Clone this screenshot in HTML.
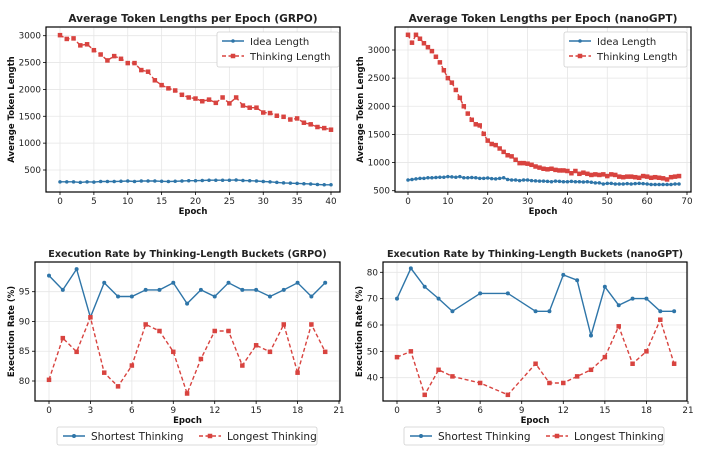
<!DOCTYPE html>
<html><head><meta charset="utf-8"><style>
html,body{margin:0;padding:0;background:#fff;}
svg{display:block;font-family:"DejaVu Sans","Liberation Sans",sans-serif;}
</style></head><body>
<svg id="fig" width="702" height="454" viewBox="0 0 702 454" xmlns="http://www.w3.org/2000/svg"></svg>
<script>
// ---- data ----
const grpoEpochs = Array.from({length:41},(_,i)=>i);
const grpoIdea = [280,280,280,270,280,275,285,285,285,290,295,285,295,295,295,290,285,290,295,300,300,305,310,310,310,310,315,305,300,295,285,280,270,260,255,250,245,240,230,225,225];
const grpoThinking = [3010,2940,2950,2820,2840,2730,2650,2540,2620,2570,2490,2490,2360,2330,2170,2080,2020,1980,1900,1850,1830,1780,1810,1750,1850,1740,1850,1700,1660,1660,1570,1560,1510,1490,1440,1460,1380,1350,1300,1280,1250];
const nanoEpochs = Array.from({length:69},(_,i)=>i);
const nanoIdea = [690,700,710,720,720,730,730,735,740,740,750,745,740,750,730,730,735,730,720,720,725,715,710,720,730,700,690,690,680,690,690,680,675,670,670,665,660,670,665,660,660,665,660,660,655,660,650,640,640,620,630,630,620,620,620,625,620,625,630,625,620,610,610,610,610,610,610,620,620];
const nanoThinking = [3270,3130,3270,3200,3120,3050,2980,2880,2780,2640,2500,2420,2290,2150,2000,1870,1760,1680,1660,1510,1390,1330,1310,1250,1190,1130,1110,1050,990,990,980,960,930,910,890,880,890,870,860,860,850,810,850,800,820,800,780,790,780,790,760,790,780,750,740,750,750,740,730,760,750,730,740,730,720,700,740,750,760];
const grpoBucketEpochs = Array.from({length:21},(_,i)=>i);
const grpoShortest = [97.7,95.3,98.8,90.7,96.5,94.2,94.2,95.3,95.3,96.5,93.0,95.3,94.2,96.5,95.3,95.3,94.2,95.3,96.5,94.2,96.5];
const grpoLongest = [80.2,87.2,84.9,90.7,81.4,79.1,82.6,89.5,88.4,84.9,77.9,83.7,88.4,88.4,82.6,86.0,84.9,89.5,81.4,89.5,84.9];
const nanoBucketEpochs = [0,1,2,3,4,6,8,10,11,12,13,14,15,16,17,18,19,20];
const nanoShortest = [70,81.5,74.5,70,65.2,72,72,65.2,65.2,79,77,56,74.5,67.5,70,70,65.2,65.2];
const nanoLongest = [47.8,50,33.5,43,40.5,38,33.5,45.3,38,38,40.5,43,47.8,59.5,45.3,50,62,45.3];
const tokenXTicksG = [0,5,10,15,20,25,30,35,40];
const tokenYTicksG = [500,1000,1500,2000,2500,3000];
const tokenXTicksN = [0,10,20,30,40,50,60,70];
const tokenYTicksN = [500,1000,1500,2000,2500,3000];
const bucketXTicks = [0,3,6,9,12,15,18,21];
const bucketYTicksG = [80,85,90,95];
const bucketYTicksN = [40,50,60,70,80];

const NS="http://www.w3.org/2000/svg";
const fig=document.getElementById('fig');
const BLUE="#2e75a8", RED="#d8433f";
function mk(tag,attrs,parent){const e=document.createElementNS(NS,tag);for(const k in attrs)e.setAttribute(k,attrs[k]);(parent||fig).appendChild(e);return e;}

function chart(cfg){
  const g=mk('g',{});
  
  
  const {L,R,T,B}=cfg.box;
  const sx=v=>cfg.x0p+(v-cfg.x0)*(cfg.x1p-cfg.x0p)/(cfg.x1-cfg.x0);
  const sy=v=>cfg.y0p+(v-cfg.y0)*(cfg.y1p-cfg.y0p)/(cfg.y1-cfg.y0);
  cfg.xticks.forEach(t=>{const x=sx(t);
    const gl=mk('line',{x1:x,x2:x,y1:T,y2:B,stroke:'#e6e6e6','stroke-width':0.8},g);
    
    
    mk('line',{x1:x,x2:x,y1:B,y2:B+3,stroke:'#000','stroke-width':0.8},g);
    const tx=mk('text',{x:x,y:B+12,'font-size':8.8,'text-anchor':'middle',fill:'#222'},g);tx.textContent=t;
    
    
  });
  cfg.yticks.forEach(t=>{const y=sy(t);
    const gl=mk('line',{x1:L,x2:R,y1:y,y2:y,stroke:'#e6e6e6','stroke-width':0.8},g);
    
    
    mk('line',{x1:L-3,x2:L,y1:y,y2:y,stroke:'#000','stroke-width':0.8},g);
    const tx=mk('text',{x:L-5,y:y+3,'font-size':8.8,'text-anchor':'end',fill:'#222'},g);tx.textContent=t;
    
    
  });
  cfg.series.forEach(s=>{
    const pts=s.x.map((xv,i)=>sx(xv).toFixed(1)+','+sy(s.y[i]).toFixed(1)).join(' ');
    const pl=mk('polyline',{points:pts,fill:'none',stroke:s.color,'stroke-width':1.4,'stroke-dasharray':s.dash?'4,2.5':'none'},g);
    
    
    s.x.forEach((xv,i)=>{const cx=sx(xv),cy=sy(s.y[i]);let m;
      if(s.dash){m=mk('rect',{x:cx-s.ms/2,y:cy-s.ms/2,width:s.ms,height:s.ms,fill:s.color},g);}
      else{m=mk('circle',{cx:cx,cy:cy,r:s.ms/2,fill:s.color},g);}
      
      
    });
  });
  const fr=mk('rect',{x:L,y:T,width:R-L,height:B-T,fill:'none',stroke:'#000','stroke-width':1.2},g);
  
  
  const tt=mk('text',{x:(L+R)/2,y:T-5,'font-size':cfg.tfs,'font-weight':'bold','text-anchor':'middle',fill:'#222'},g);tt.textContent=cfg.title;
  
  
  const xl=mk('text',{x:(L+R)/2,y:B+22,'font-size':8.5,'font-weight':'bold','text-anchor':'middle',fill:'#111'},g);xl.textContent='Epoch';
  
  
  const yx=cfg.ylabX, yy=(T+B)/2;
  const yl=mk('text',{x:yx,y:yy,'font-size':8.5,'font-weight':'bold','text-anchor':'middle',fill:'#111',transform:`rotate(-90 ${yx} ${yy})`},g);yl.textContent=cfg.ylabel;
  
  
  const lg=cfg.legend;
  const lgG=mk('g',{},g);
  
  
  mk('rect',{x:lg.x,y:lg.y,width:lg.w,height:lg.h,fill:'#fff',stroke:'#d0d0d0','stroke-width':0.8,rx:2},lgG);
  cfg.series.forEach((s,i)=>{
    const ex=lg.horiz? lg.x+6+i*lg.step : lg.x+5;
    const ey=lg.horiz? lg.y+lg.h/2 : lg.y+9+i*15;
    const eg=mk('g',{},lgG);
    
    
    mk('line',{x1:ex,x2:ex+22,y1:ey,y2:ey,stroke:s.color,'stroke-width':1.4,'stroke-dasharray':s.dash?'4,2.5':'none'},eg);
    if(s.dash)mk('rect',{x:ex+11-s.ms/2,y:ey-s.ms/2,width:s.ms,height:s.ms,fill:s.color},eg);
    else mk('circle',{cx:ex+11,cy:ey,r:s.ms/2,fill:s.color},eg);
    const t=mk('text',{x:ex+28,y:ey+4,'font-size':lg.fs,fill:'#222'},eg);t.textContent=s.label;
  });
}

chart({name:'grpo-token-length-chart',title:'Average Token Lengths per Epoch (GRPO)',tfs:10.6,ylabel:'Average Token Length',ylabX:14,
  box:{L:46,R:340,T:27,B:192},x0:0,x1:40,x0p:60,x1p:331,y0:500,y1:3000,y0p:170,y1p:35.7,
  xticks:tokenXTicksG,yticks:tokenYTicksG,
  legend:{x:217,y:32,w:122,h:35,fs:10},
  series:[{id:'idea-length',label:'Idea Length',x:grpoEpochs,y:grpoIdea,color:BLUE,ms:3.5},
          {id:'thinking-length',label:'Thinking Length',x:grpoEpochs,y:grpoThinking,color:RED,dash:true,ms:4.5}]});
chart({name:'nanogpt-token-length-chart',title:'Average Token Lengths per Epoch (nanoGPT)',tfs:10.6,ylabel:'Average Token Length',ylabX:363,
  box:{L:395,R:691,T:27,B:192},x0:0,x1:70,x0p:408,x1p:687,y0:500,y1:3000,y0p:190.7,y1p:50,
  xticks:tokenXTicksN,yticks:tokenYTicksN,
  legend:{x:564,y:32,w:123,h:35,fs:10},
  series:[{id:'idea-length',label:'Idea Length',x:nanoEpochs,y:nanoIdea,color:BLUE,ms:3.5},
          {id:'thinking-length',label:'Thinking Length',x:nanoEpochs,y:nanoThinking,color:RED,dash:true,ms:4.5}]});
chart({name:'grpo-execution-rate-chart',title:'Execution Rate by Thinking-Length Buckets (GRPO)',tfs:9.6,ylabel:'Execution Rate (%)',ylabX:14,
  box:{L:35,R:340,T:262,B:401},x0:0,x1:21,x0p:49,x1p:339,y0:80,y1:95,y0p:381,y1p:291.7,
  xticks:bucketXTicks,yticks:bucketYTicksG,
  legend:{x:57,y:427,w:260,h:18,fs:10.5,horiz:true,step:136},
  series:[{id:'shortest-thinking',label:'Shortest Thinking',x:grpoBucketEpochs,y:grpoShortest,color:BLUE,ms:4},
          {id:'longest-thinking',label:'Longest Thinking',x:grpoBucketEpochs,y:grpoLongest,color:RED,dash:true,ms:4.5}]});
chart({name:'nanogpt-execution-rate-chart',title:'Execution Rate by Thinking-Length Buckets (nanoGPT)',tfs:9.6,ylabel:'Execution Rate (%)',ylabX:362,
  box:{L:383,R:687,T:262,B:401},x0:0,x1:21,x0p:397,x1p:688,y0:40,y1:80,y0p:377.7,y1p:272.3,
  xticks:bucketXTicks,yticks:bucketYTicksN,
  legend:{x:404,y:427,w:260,h:18,fs:10.5,horiz:true,step:136},
  series:[{id:'shortest-thinking',label:'Shortest Thinking',x:nanoBucketEpochs,y:nanoShortest,color:BLUE,ms:4},
          {id:'longest-thinking',label:'Longest Thinking',x:nanoBucketEpochs,y:nanoLongest,color:RED,dash:true,ms:4.5}]});
</script>
</body></html>
